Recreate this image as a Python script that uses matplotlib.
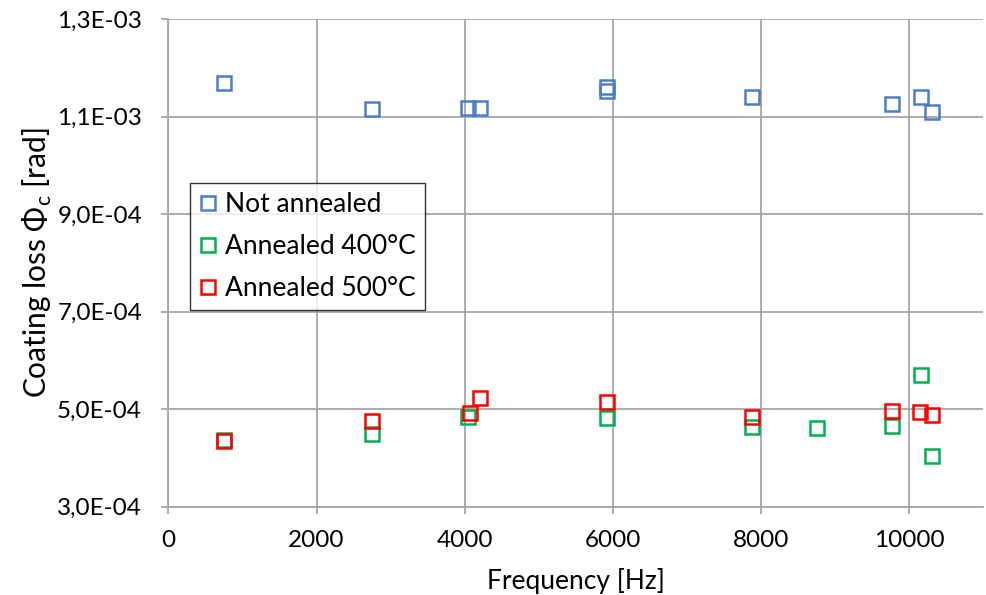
import matplotlib
matplotlib.use('Agg')
import matplotlib.pyplot as plt
from matplotlib.ticker import FuncFormatter

plt.rcParams['font.family'] = ['Lato', 'DejaVu Sans']

# Frequency [Hz] and coating loss [rad]
freq_not = [754, 2754, 4044, 4211, 5918, 5918, 7886, 9774, 10156, 10313]
loss_not = [1.1685e-3, 1.1152e-3, 1.1185e-3, 1.1185e-3, 1.1615e-3, 1.1520e-3,
            1.1398e-3, 1.1254e-3, 1.1404e-3, 1.1096e-3]

freq_400 = [754, 2754, 4044, 5918, 7886, 8754, 9774, 10156, 10313]
loss_400 = [4.37e-4, 4.493e-4, 4.835e-4, 4.815e-4, 4.63e-4, 4.622e-4,
            4.663e-4, 5.703e-4, 4.042e-4]

freq_500 = [754, 2754, 4066, 4201, 5918, 7886, 9774, 10148, 10313]
loss_500 = [4.35e-4, 4.766e-4, 4.917e-4, 5.225e-4, 5.143e-4, 4.848e-4,
            4.971e-4, 4.95e-4, 4.883e-4]

labels = ['Not annealed', 'Annealed 400°C', 'Annealed 500°C']
colors = ['#4A7EC9', '#00B050', '#FF0000']
xticks = [0, 2000, 4000, 6000, 8000, 10000]
yticks = [3e-4, 5e-4, 7e-4, 9e-4, 1.1e-3, 1.3e-3]

fig = plt.figure(figsize=(9.86, 5.95), dpi=100)
ax = fig.add_axes([0.1708, 0.1482, 0.8262, 0.8195])

series = [(freq_not, loss_not), (freq_400, loss_400), (freq_500, loss_500)]
for (f, l), lab, c in zip(series, labels, colors):
    ax.plot(f, l, linestyle='none', marker='s', markersize=9.5,
            markerfacecolor='none', markeredgecolor=c, markeredgewidth=1.8,
            label=lab)

ax.set_xlim(0, 11000)
ax.set_ylim(3e-4, 1.3e-3)
ax.set_xticks(xticks)
ax.set_yticks(yticks)


def sci_comma(v, pos):
    s = '%.1E' % v
    mant, exp = s.split('E')
    e = int(exp)
    return '%s%s%02d' % (mant.replace('.', ','), 'E-' if e < 0 else 'E+', abs(e))


ax.yaxis.set_major_formatter(FuncFormatter(sci_comma))
ax.grid(True, color='#A6A6A6', linewidth=1.3)
ax.set_axisbelow(True)
for side in ['top', 'right']:
    ax.spines[side].set_visible(False)
for side in ['left', 'bottom']:
    ax.spines[side].set_color('#A6A6A6')
    ax.spines[side].set_linewidth(1.3)
ax.tick_params(axis='both', colors='#A6A6A6', labelcolor='#000000',
               labelsize=17.5, length=5, width=1.3)
ax.tick_params(axis='x', pad=12)
ax.tick_params(axis='y', pad=14)

ax.set_xlabel('Frequency [Hz]', fontsize=19, labelpad=12)
ax.set_ylabel('Coating loss Φ$_\\mathregular{c}$ [rad]', fontsize=21.5, labelpad=2)

leg = ax.legend(loc='upper left', bbox_to_anchor=(0.026, 0.665), fontsize=19,
                frameon=True, fancybox=False, edgecolor='#000000',
                handlelength=0.7, handletextpad=0.3, borderpad=0.35,
                labelspacing=0.65, borderaxespad=0)
leg.get_frame().set_linewidth(1.0)

fig.savefig('out.png', dpi=100)
